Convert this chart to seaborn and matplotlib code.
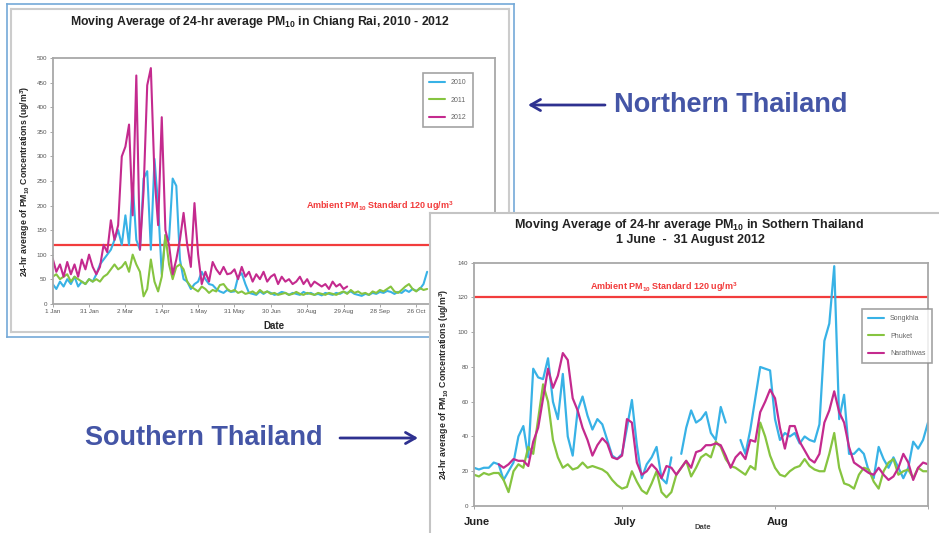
import numpy as np
import pandas as pd
import seaborn as sns
import matplotlib.pyplot as plt

nan = np.nan

# ---- Chiang Rai 2010 - 2012, moving average read every 3rd day from 1 Jan ----
north_days = list(range(0, 310, 3))
pm_2010 = [40, 30, 45, 35, 50, 40, 55, 35, 45, 40,
           50, 45, 60, 80, 90, 100, 110, 130, 150, 120,
           180, 120, 245, 130, 110, 255, 270, 110, 295, 200,
           60, 140, 130, 255, 240, 90, 50, 45, 30, 40,
           45, 65, 50, 40, 38, 30, 25, 22, 28, 24,
           25, 55, 62, 40, 22, 20, 18, 25, 20, 25,
           22, 18, 20, 24, 22, 18, 22, 20, 18, 24,
           20, 22, 18, 20, 17, 22, 20, 18, 22, 20,
           24, 22, 25, 20, 18, 16, 20, 18, 22, 20,
           24, 22, 26, 24, 20, 24, 22, 28, 24, 30,
           26, 30, 40, 65]
pm_2011 = [55, 60, 50, 55, 60, 45, 55, 50, 45, 40,
           50, 45, 50, 45, 55, 60, 70, 80, 70, 75,
           85, 65, 100, 80, 65, 15, 30, 90, 45, 25,
           55, 140, 80, 50, 75, 80, 70, 45, 35, 30,
           25, 35, 30, 22, 28, 25, 38, 40, 30, 25,
           28, 22, 25, 20, 22, 25, 20, 28, 22, 25,
           20, 22, 18, 20, 22, 18, 20, 24, 20, 18,
           22, 20, 18, 22, 20, 18, 22, 20, 18, 22,
           25, 20, 28, 22, 25, 20, 22, 18, 25, 22,
           28, 25, 30, 35, 25, 22, 28, 35, 40, 30,
           25, 32, 28, 30]
pm_2012 = [92, 65, 80, 55, 85, 60, 80, 55, 90, 70,
           100, 75, 60, 75, 120, 105, 170, 130, 160, 300,
           320, 365, 180, 465, 110, 230, 445, 480, 260, 160,
           380, 150, 120, 60, 90, 130, 185, 120, 75, 205,
           100, 40, 65, 45, 85, 70, 60, 75, 60, 62,
           70, 50, 75, 55, 65, 45, 60, 50, 65, 45,
           55, 60, 40, 55, 45, 50, 40, 45, 55, 40,
           50, 35, 45, 40, 35, 40, 30, 45, 35, 40,
           30, 35, nan, nan, nan, nan, nan, nan, nan, nan,
           nan, nan, nan, nan, nan, nan, nan, nan, nan, nan,
           nan, nan, nan, nan]
north_tick_days = [0, 30, 60, 90, 120, 150, 180, 210, 240, 270, 300]
north_tick_labels = ["1 Jan", "31 Jan", "2 Mar", "1 Apr", "1 May", "31 May",
                     "30 Jun", "30 Aug", "29 Aug", "28 Sep", "26 Oct"]

# ---- Southern Thailand, 1 June - 31 August 2012, daily ----
south_days = list(range(93))
songkhla = [22, 21, 22, 22, 25, 24, 15, 20, 25, 40,
            46, 28, 79, 74, 73, 85, 60, 50, 76, 40,
            29, 55, 63, 52, 44, 50, 47, 38, 29, 27,
            30, 45, 61, 35, 16, 24, 28, 34, 16, 13,
            28, nan, 30, 45, 55, 48, 50, 54, 42, 38,
            57, 48, nan, nan, 38, 30, 44, 62, 80, 79,
            78, 50, 38, 42, 40, 42, 36, 40, 38, 37,
            47, 95, 105, 138, 50, 64, 30, 30, 33, 30,
            20, 16, 34, 27, 22, 28, 22, 16, 22, 37,
            33, 38, 48]
phuket = [18, 17, 19, 18, 19, 19, 15, 8, 20, 24,
          22, 34, 30, 50, 70, 60, 38, 28, 22, 24,
          21, 22, 25, 22, 23, 22, 21, 19, 15, 12,
          10, 11, 20, 14, 9, 7, 13, 20, 8, 5,
          8, 18, 22, 26, 17, 22, 28, 30, 28, 37,
          34, 27, 23, 22, 20, 18, 23, 21, 48, 40,
          29, 22, 18, 17, 20, 22, 23, 27, 23, 21,
          20, 20, 30, 42, 22, 13, 12, 10, 18, 22,
          21, 14, 10, 20, 25, 27, 18, 20, 21, 16,
          22, 20, 20]
narathiwas = [nan, nan, nan, nan, nan, 24, 22, 24, 27, 26,
              26, 23, 37, 45, 62, 79, 68, 75, 88, 84,
              62, 55, 45, 38, 29, 35, 39, 36, 28, 27,
              29, 50, 48, 25, 18, 20, 24, 21, 16, 23,
              22, 18, 22, 26, 22, 31, 32, 35, 35, 36,
              35, 29, 22, 28, 31, 27, 38, 37, 54, 60,
              67, 62, 45, 33, 46, 46, 37, 32, 27, 25,
              30, 48, 55, 66, 54, 48, 34, 25, 23, 21,
              19, 18, 22, 18, 15, 17, 22, 30, 25, 15,
              22, 25, 24]
month_days = [0, 30, 61]
month_labels = ["June", "July", "Aug"]

standard = 120


def long_frame(days, series):
    parts = []
    for name, vals in series.items():
        d = pd.DataFrame({"day": days, "pm10": vals, "series": name})
        d["seg"] = name + d["pm10"].isna().cumsum().astype(str)
        parts.append(d.dropna())
    return pd.concat(parts, ignore_index=True)


north = long_frame(north_days, {"2010": pm_2010, "2011": pm_2011, "2012": pm_2012})
south = long_frame(south_days, {"Songkhla": songkhla, "Phuket": phuket,
                                "Narathiwas": narathiwas})

blue, green, magenta, red = "#38b2e6", "#86c440", "#c42a8e", "#f23c3c"
north_palette = {"2010": blue, "2011": green, "2012": magenta}
south_palette = {"Songkhla": blue, "Phuket": green, "Narathiwas": magenta}

sns.set_style("white")
plt.rcParams["font.family"] = ["Liberation Sans", "DejaVu Sans"]
plt.rcParams["mathtext.fontset"] = "custom"
plt.rcParams["mathtext.rm"] = "Liberation Sans"
plt.rcParams["mathtext.bf"] = "Liberation Sans:bold"
plt.rcParams["mathtext.it"] = "Liberation Sans:italic"

W, H = 939, 533


def rect(x0, y0, x1, y1):
    return [x0 / W, 1 - y1 / H, (x1 - x0) / W, (y1 - y0) / H]


def frame(r, edge, lw, z, face="white"):
    a = fig.add_axes(r)
    a.set_xticks([])
    a.set_yticks([])
    a.set_facecolor(face)
    for s in a.spines.values():
        s.set_color(edge)
        s.set_linewidth(lw)
    a.set_zorder(z)
    return a


def style_plot(ax, leg_anchor):
    for s in ax.spines.values():
        s.set_color("#a8a8a8")
        s.set_linewidth(1.3)
    ax.tick_params(labelsize=4.5, labelcolor="#555555", length=2, width=0.6,
                   color="#999999", pad=2, bottom=True, left=True)
    ax.axhline(standard, color=red, lw=1.6, zorder=1)
    sns.move_legend(ax, "upper left", bbox_to_anchor=leg_anchor, title=None,
                    frameon=True, fancybox=False, fontsize=5, handlelength=2.3,
                    labelspacing=1.5, borderpad=0.9, borderaxespad=0)
    leg = ax.get_legend()
    leg.get_frame().set_edgecolor("#8c8c8c")
    leg.get_frame().set_linewidth(1.2)
    for t in leg.get_texts():
        t.set_color("#666666")
    for ln in leg.get_lines():
        ln.set_linewidth(1.5)


fig = plt.figure(figsize=(9.39, 5.33), dpi=100)
fig.patch.set_facecolor("white")

# ---- northern chart ----
frame(rect(7, 4, 514, 337), "#74a9d8", 1.2, 0)
frame(rect(11, 9, 509, 332), "#cccccc", 1.5, 0.1, face="none")
ax_n = fig.add_axes(rect(52.7, 58.3, 495, 303.7))
ax_n.set_zorder(0.5)
sns.lineplot(data=north, x="day", y="pm10", hue="series", units="seg", estimator=None,
             palette=north_palette, linewidth=1.5, ax=ax_n)
ax_n.set_xlim(0, 365)
ax_n.set_ylim(0, 500)
ax_n.set_xticks(north_tick_days, north_tick_labels)
ax_n.set_yticks(range(0, 501, 50))
ax_n.set_xlabel("Date", fontsize=7, fontweight="bold", labelpad=5)
ax_n.set_ylabel(r"24-hr average of PM$_{\mathbf{10}}$ Concentrations (ug/m$^{\mathbf{3}}$)",
                fontsize=6.3, fontweight="bold", labelpad=3)
style_plot(ax_n, (0.837, 0.94))
ax_n.text(209, 199, r"Ambient PM$_{\mathbf{10}}$ Standard 120 ug/m$^{\mathbf{3}}$",
          color=red, fontsize=6.5, fontweight="bold", va="center")
fig.text(260 / W, 1 - 22 / H,
         r"Moving Average of 24-hr average PM$_{\mathbf{10}}$ in Chiang Rai, 2010 - 2012",
         ha="center", va="center", fontsize=8.8, fontweight="bold", color="#222222")

# ---- southern chart ----
frame(rect(430, 213, 950, 545), "#c4c4c4", 1.5, 3)
ax_s = fig.add_axes(rect(474, 262.7, 928, 506))
ax_s.set_zorder(4)
sns.lineplot(data=south, x="day", y="pm10", hue="series", units="seg", estimator=None,
             palette=south_palette, linewidth=1.6, ax=ax_s)
ax_s.set_xlim(0, 92)
ax_s.set_ylim(0, 140)
ax_s.set_xticks(month_days + [92], [""] * 4)
ax_s.set_yticks(range(0, 141, 20))
ax_s.set_xlabel("")
ax_s.set_ylabel(r"24-hr average of PM$_{\mathbf{10}}$ Concentrations (ug/m$^{\mathbf{3}}$)",
                fontsize=6.3, fontweight="bold", labelpad=5)
style_plot(ax_s, (0.855, 0.81))
for d, lab in zip(month_days, month_labels):
    ax_s.text(d + 0.6, -0.065, lab, transform=ax_s.get_xaxis_transform(),
              ha="center", va="center", fontsize=8, fontweight="bold", color="#222222")
ax_s.text(0.505, -0.09, "Date", transform=ax_s.transAxes, ha="center", va="center",
          fontsize=5.5, fontweight="bold", color="#444444")
ax_s.text(23.5, 126, r"Ambient PM$_{\mathbf{10}}$ Standard 120 ug/m$^{\mathbf{3}}$",
          color=red, fontsize=6.5, fontweight="bold", va="center")
fig.text(689 / W, 1 - 225 / H,
         r"Moving Average of 24-hr average PM$_{\mathbf{10}}$ in Sothern Thailand",
         ha="center", va="center", fontsize=9, fontweight="bold", color="#222222", zorder=10)
fig.text(690 / W, 1 - 240 / H, "1 June  -  31 August 2012",
         ha="center", va="center", fontsize=9, fontweight="bold", color="#222222", zorder=10)

# ---- slide annotations ----
label_col, arrow_col = "#4455a6", "#2e3190"
fig.text(614 / W, 1 - 105 / H, "Northern Thailand", ha="left", va="center",
         fontsize=19.5, fontweight="bold", color=label_col, zorder=10)
fig.text(85 / W, 1 - 438 / H, "Southern Thailand", ha="left", va="center",
         fontsize=19.5, fontweight="bold", color=label_col, zorder=10)
arrow = dict(arrowstyle="->,head_length=0.7,head_width=0.4", color=arrow_col, lw=2,
             shrinkA=0, shrinkB=0)
ax_n.annotate("", xy=(528, H - 105), xytext=(605, H - 105), xycoords="figure pixels",
              textcoords="figure pixels", arrowprops=arrow, annotation_clip=False)
ax_n.annotate("", xy=(418, H - 438), xytext=(340, H - 438), xycoords="figure pixels",
              textcoords="figure pixels", arrowprops=arrow, annotation_clip=False)

fig.savefig("out.png", dpi=100)
